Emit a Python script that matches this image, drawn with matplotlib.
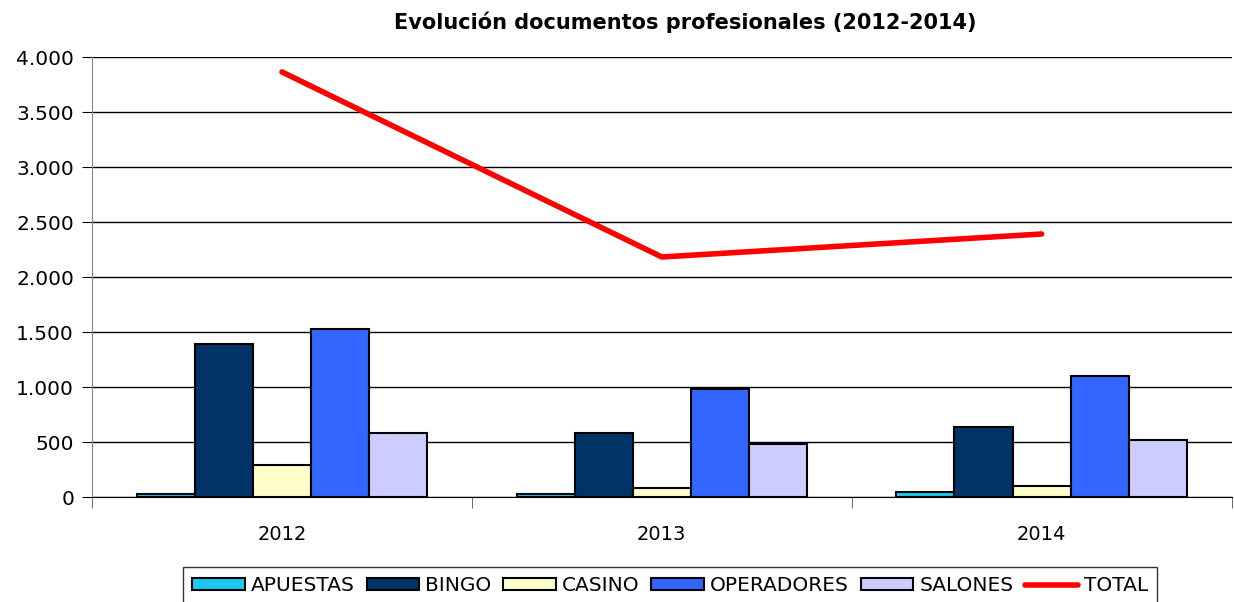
import numpy as np
import matplotlib.pyplot as plt
from matplotlib.ticker import FuncFormatter

# data
years = ["2012", "2013", "2014"]
apuestas = [30, 30, 45]
bingo = [1390, 582, 636]
casino = [290, 82, 100]
operadores = [1527, 982, 1100]
salones = [582, 482, 518]
total = [3864, 2182, 2391]

series = [
    ("APUESTAS", apuestas, "#1CC8F2"),
    ("BINGO", bingo, "#003366"),
    ("CASINO", casino, "#FFFFCC"),
    ("OPERADORES", operadores, "#3366FF"),
    ("SALONES", salones, "#CCCCFF"),
]

plt.rcParams['font.family'] = ['DejaVu Sans']

fig = plt.figure(figsize=(12.34, 6.02), dpi=100)
ax = fig.add_axes([0.0746, 0.1744, 0.9234, 0.7309])

x = np.arange(len(years))
w = 0.153
for i, (name, vals, col) in enumerate(series):
    ax.bar(x + (i - 2) * w, vals, width=w, color=col, edgecolor="black",
           linewidth=1.5, label=name, zorder=3)

ax.plot(x, total, color="#FF0000", linewidth=4, label="TOTAL", zorder=4,
        solid_capstyle="round")

ax.set_xlim(-0.5, 2.5)
ax.set_ylim(0, 4000)
ax.set_yticks(np.arange(0, 4001, 500))
ax.yaxis.set_major_formatter(FuncFormatter(lambda v, p: f"{int(v):,}".replace(",", ".")))
ax.set_xticks(x)
ax.set_xticklabels(years)
ax.set_xticks([-0.5, 0.5, 1.5, 2.5], minor=True)
ax.tick_params(axis="x", which="major", length=0, labelsize=14, pad=20)
ax.tick_params(axis="x", which="minor", length=8, color="#555555")
ax.tick_params(axis="y", length=7, labelsize=14.5, pad=6)

ax.grid(axis="y", color="black", linewidth=1, zorder=0)
for s in ["top", "right"]:
    ax.spines[s].set_visible(False)
ax.spines["left"].set_color("#888888")
ax.spines["bottom"].set_color("black")

fig.text(0.555, 0.963, "Evolución documentos profesionales (2012-2014)",
         fontsize=15, fontweight="bold", ha="center", va="center")

handles, labels = ax.get_legend_handles_labels()
order = [1, 2, 3, 4, 5, 0]
leg = fig.legend([handles[i] for i in order], [labels[i] for i in order],
                 loc="center", bbox_to_anchor=(0.543, 0.027), ncol=6,
                 fontsize=14.5, frameon=True, fancybox=False, edgecolor="black",
                 handlelength=2.6, handleheight=0.55, handletextpad=0.3,
                 columnspacing=0.6, borderpad=0.45)
leg.get_frame().set_linewidth(1)

fig.savefig("out.png", dpi=100)
